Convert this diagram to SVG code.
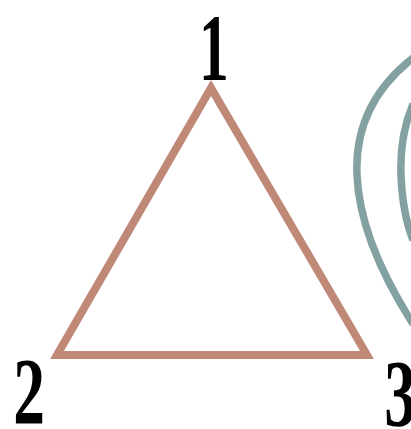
<svg xmlns="http://www.w3.org/2000/svg" width="411" height="429" viewBox="0 0 411 429">
<style>
.tri{fill:none;stroke:#bf8877;stroke-width:8;stroke-linejoin:miter}
.loop{fill:none;stroke:#84a1a1;stroke-width:7.5;stroke-linecap:butt}
.lbl{font-family:"Liberation Serif",serif;font-weight:bold;font-size:96px;fill:#000;text-anchor:middle}
</style>
<rect width="411" height="429" fill="#fff"/>
<g id="connectors">
<path class="loop" d="M 413,58 C 372,90 355,130 357,175 C 359,225 385,280 413,324"/>
<path class="loop" d="M 413,104 C 403,128 400,150 401,175 C 402,200 405,220 413,240"/>
</g>
<g id="triangle">
<polygon class="tri" points="211,88 57,355 367,355"/>
</g>
<g id="n1"><text class="lbl" transform="translate(214,80) scale(0.62,1)">1</text></g>
<g id="n2"><text class="lbl" transform="translate(29,424) scale(0.66,1)">2</text></g>
<g id="n3"><text class="lbl" transform="translate(400,426) scale(0.66,1)">3</text></g>
</svg>
